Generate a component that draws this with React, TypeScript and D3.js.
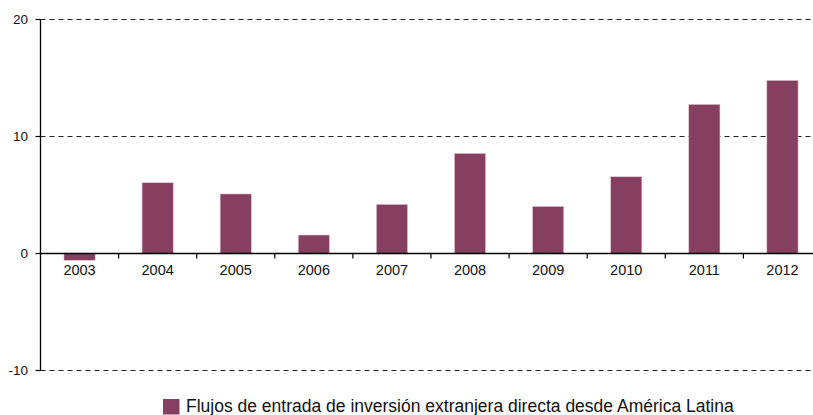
import React from "react";
import * as d3 from "d3";

const years = ["2003", "2004", "2005", "2006", "2007", "2008", "2009", "2010", "2011", "2012"];
const values = [-0.58, 6.05, 5.09, 1.58, 4.2, 8.56, 4.03, 6.56, 12.75, 14.8];
const yTicks = [-10, 0, 10, 20];
const gridTicks = [-10, 10, 20];
const legendLabel = "Flujos de entrada de inversión extranjera directa desde América Latina";

const W = 813;
const H = 415;
const left = 40.5;
const bandW = 78.1;
const right = left + bandW * years.length;
const barColor = "#853F5F";
const font = "'Liberation Sans', Arial, sans-serif";

export default function App() {
  const x = d3.scaleBand<string>().domain(years).range([left, right]).paddingInner(0.6).paddingOuter(0.3);
  const y = d3.scaleLinear().domain([-10, 20]).range([370.5, 19.5]);
  const boundaries = d3.range(1, years.length).map((i) => left + i * bandW);

  return (
    <svg width={W} height={H} style={{ position: "absolute", left: 0, top: 0, background: "#fff" }}>
      {gridTicks.map((t) => (
        <line key={"g" + t} x1={left} x2={W} y1={y(t)} y2={y(t)} stroke="#222" strokeWidth={1} strokeDasharray="5,4" />
      ))}
      {years.map((yr, i) => {
        const v = values[i];
        const y0 = y(0);
        const y1 = y(v);
        return (
          <rect
            key={yr}
            x={x(yr)}
            width={x.bandwidth()}
            y={Math.min(y0, y1)}
            height={Math.abs(y1 - y0)}
            fill={barColor}
            stroke="#e6c9d6"
            strokeWidth={0.6}
          />
        );
      })}
      <line x1={left} x2={left} y1={y(20)} y2={y(-10)} stroke="#000" strokeWidth={1.3} />
      {yTicks.map((t) => (
        <g key={"y" + t}>
          <line x1={left - 5} x2={left} y1={y(t)} y2={y(t)} stroke="#000" strokeWidth={1.2} />
          <text x={28} y={y(t)} dy="0.35em" textAnchor="end" fontFamily={font} fontSize={13.5} fill="#111">
            {t}
          </text>
        </g>
      ))}
      <line x1={left} x2={W} y1={y(0)} y2={y(0)} stroke="#000" strokeWidth={1.3} />
      {boundaries.map((b, i) => (
        <line key={"b" + i} x1={b} x2={b} y1={y(0)} y2={y(0) + 5} stroke="#000" strokeWidth={1.2} />
      ))}
      {years.map((yr) => (
        <text key={"t" + yr} x={(x(yr) as number) + x.bandwidth() / 2} y={270} dy="0.35em" textAnchor="middle" fontFamily={font} fontSize={14.5} fill="#111">
          {yr}
        </text>
      ))}
      <rect x={163} y={399} width={16.5} height={15.5} fill={barColor} />
      <text x={186} y={412} fontFamily={font} fontSize={17.5} fill="#111">
        {legendLabel}
      </text>
    </svg>
  );
}
